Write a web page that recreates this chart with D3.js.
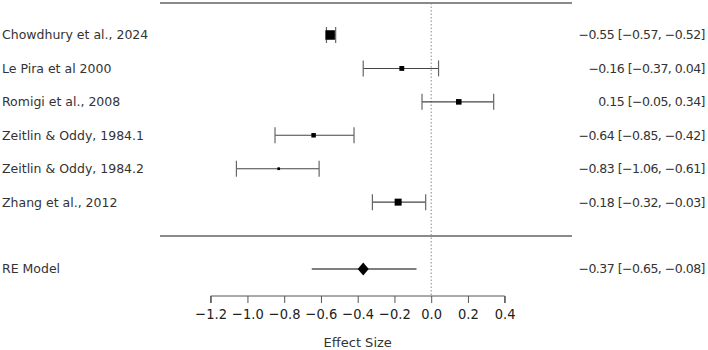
<!DOCTYPE html>
<html><head><meta charset="utf-8">
<script src="https://cdn.jsdelivr.net/npm/d3@7"></script>
<style>body{margin:0;background:#fff}svg{display:block}</style>
</head><body>
<script>
const studies = ["Chowdhury et al., 2024","Le Pira et al 2000","Romigi et al., 2008","Zeitlin & Oddy, 1984.1","Zeitlin & Oddy, 1984.2","Zhang et al., 2012"];
const est = [-0.55,-0.16,0.15,-0.64,-0.83,-0.18];
const lo  = [-0.57,-0.37,-0.05,-0.85,-1.06,-0.32];
const hi  = [-0.52,0.04,0.34,-0.42,-0.61,-0.03];
const weights = [22,15.5,16.5,15,12.5,18.5];
const reLabel = "RE Model";
const reEst = -0.37, reLo = -0.65, reHi = -0.08;
const ticks = [-1.2,-1.0,-0.8,-0.6,-0.4,-0.2,0.0,0.2,0.4];
const xTitle = "Effect Size";

const W=708,H=350;
const svg=d3.select("body").append("svg").attr("width",W).attr("height",H);
const x=d3.scaleLinear().domain([-1.2,0.4]).range([210.7,504.7]);
const y=d3.scalePoint().domain(d3.range(8)).range([35,269]);
const sz=d3.scaleLinear().domain([12.5,22]).range([2.7,9.5]);
const fmt=v=>d3.format(".2f")(v).replace("-","\u2212");
const lab=(e,l,h)=>`${fmt(e)} [${fmt(l)}, ${fmt(h)}]`;
const font="'DejaVu Sans', sans-serif";

svg.append("line").attr("x1",160).attr("x2",572).attr("y1",3).attr("y2",3).attr("stroke","#8a8a8a").attr("stroke-width",2);
svg.append("line").attr("x1",160).attr("x2",572).attr("y1",236).attr("y2",236).attr("stroke","#8a8a8a").attr("stroke-width",2);
svg.append("line").attr("x1",x(0)).attr("x2",x(0)).attr("y1",3).attr("y2",296).attr("stroke","#888").attr("stroke-dasharray","1.5,2").attr("stroke-width",1);

const g=svg.append("g");
function leftText(yy,t){g.append("text").attr("x",2).attr("y",yy).attr("dy","0.35em").attr("font-family",font).attr("font-size",12.5).attr("fill","#333").text(t);}
function rightText(yy,t){g.append("text").attr("x",705).attr("y",yy).attr("dy","0.35em").attr("text-anchor","end").attr("font-family",font).attr("font-size",12.5).attr("letter-spacing","-0.5").attr("fill","#333").text(t);}
studies.forEach((s,i)=>{
  const yy=y(i);
  leftText(yy,s);
  rightText(yy,lab(est[i],lo[i],hi[i]));
  g.append("line").attr("x1",x(lo[i])).attr("x2",x(hi[i])).attr("y1",yy).attr("y2",yy).attr("stroke","#444").attr("stroke-width",1.1);
  [lo[i],hi[i]].forEach(v=>g.append("line").attr("x1",x(v)).attr("x2",x(v)).attr("y1",yy-8).attr("y2",yy+8).attr("stroke","#666").attr("stroke-width",1.2));
  const s2=sz(weights[i]);
  g.append("rect").attr("x",x(est[i])-s2/2).attr("y",yy-s2/2).attr("width",s2).attr("height",s2).attr("fill","#000");
});

const yr=y(7);
leftText(yr,reLabel);
rightText(yr,lab(reEst,reLo,reHi));
g.append("line").attr("x1",x(reLo)).attr("x2",x(reHi)).attr("y1",yr).attr("y2",yr).attr("stroke","#555").attr("stroke-width",1.5);
const cx=x(reEst);
g.append("path").attr("d",`M${cx-5.5},${yr}L${cx},${yr-6.5}L${cx+5.5},${yr}L${cx},${yr+6.5}Z`).attr("fill","#000");

const ax=svg.append("g").attr("transform","translate(0,296)")
  .call(d3.axisBottom(x).tickValues(ticks).tickSize(7).tickFormat(v=>d3.format(".1f")(v).replace("-","\u2212")));
ax.select(".domain").attr("stroke","#555").attr("d",`M${x(-1.2)},7V0H${x(0.4)}V7`);
ax.selectAll(".tick line").attr("stroke","#555");
ax.selectAll(".tick text").attr("font-family","'DejaVu Sans Condensed', 'DejaVu Sans', sans-serif").attr("font-size",14.5).attr("fill","#222").attr("y",13);
svg.append("text").attr("x",(x(0.4)+x(-1.2))/2).attr("y",347).attr("text-anchor","middle").attr("font-family",font).attr("font-size",13).attr("fill","#333").text(xTitle);
</script>
</body></html>
